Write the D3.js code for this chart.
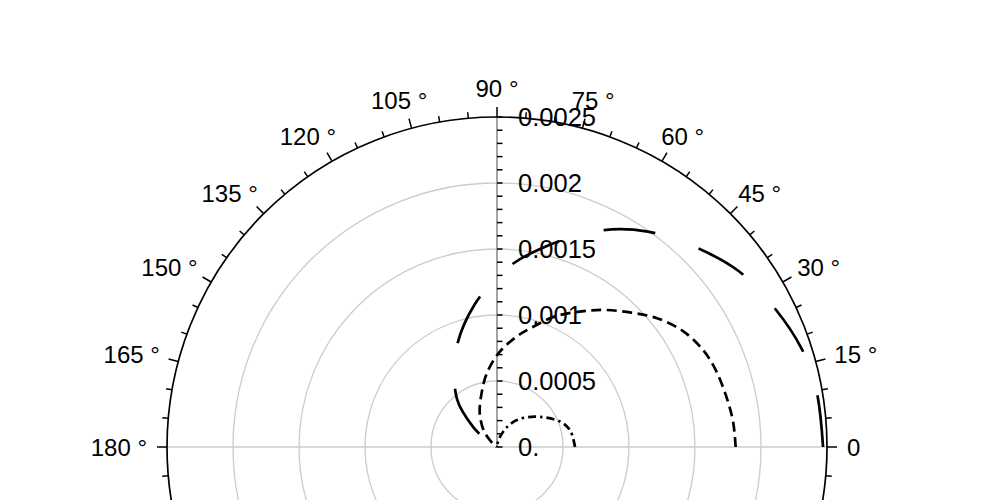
<!DOCTYPE html>
<html>
<head>
<meta charset="utf-8">
<script src="https://cdn.jsdelivr.net/npm/d3@7"></script>
<style>
  html, body { margin: 0; padding: 0; background: #fff; }
  svg { display: block; }
  text { font-family: "Liberation Sans", Arial, sans-serif; fill: #000; }
</style>
</head>
<body>
<svg id="chart" width="997" height="500"></svg>
<script>
// ---- data (angles in degrees, radii in data units) ----
const angleTickValues = [0, 15, 30, 45, 60, 75, 90, 105, 120, 135, 150, 165, 180];
const angleTickLabels = ["0", "15 °", "30 °", "45 °", "60 °", "75 °", "90 °", "105 °", "120 °", "135 °", "150 °", "165 °", "180 °"];
const radialTickValues = [0, 0.0005, 0.001, 0.0015, 0.002, 0.0025];
const radialTickLabels = ["0.", "0.0005", "0.001", "0.0015", "0.002", "0.0025"];

const longDashTheta = [0, 10, 18, 27, 36, 45, 55, 65, 78, 87, 99, 113, 130, 140, 146, 152, 160];
const longDashR = [0.00247, 0.002458, 0.002424, 0.002348, 0.002265, 0.002136, 0.001992, 0.001807,
                   0.00153, 0.001352, 0.001091, 0.000795, 0.00047, 0.000235, 0.000095, 0.00002, 0];

const dashTheta = [0, 6, 12, 19, 25, 32, 39, 45, 52, 58, 66, 74, 80, 89, 98, 106, 117, 129, 136, 143, 150];
const dashR = [0.001808, 0.001799, 0.00178, 0.001758, 0.001727, 0.001659, 0.001553, 0.001439, 0.001318,
               0.001212, 0.001083, 0.000939, 0.000848, 0.000712, 0.000561, 0.000424, 0.000288,
               0.000159, 0.000076, 0.000023, 0];

const dashDotTheta = [0, 13, 22, 35, 45, 54, 62, 67, 74, 80, 88];
const dashDotR = [0.000591, 0.000568, 0.000515, 0.000398, 0.000318, 0.00025, 0.000182, 0.000136,
                  0.000076, 0.00003, 0];

// ---- layout ----
const svg = d3.select("#chart");
const cx = 497, cy = 447, R = 330;
const rScale = d3.scaleLinear().domain([0, 0.0025]).range([0, R]);
// polar angle (deg, ccw from east) -> d3 radial angle (rad, cw from north)
const aScale = d3.scaleLinear().domain([0, 360]).range([Math.PI / 2, Math.PI / 2 - 2 * Math.PI]);

svg.append("rect").attr("width", 997).attr("height", 500).attr("fill", "#fff");
const g = svg.append("g").attr("transform", `translate(${cx},${cy})`);

// grid circles
g.selectAll("circle.grid").data(radialTickValues.filter(v => v > 0 && v < 0.0025))
  .enter().append("circle").attr("class", "grid")
  .attr("r", d => rScale(d)).attr("fill", "none")
  .attr("stroke", "#cccccc").attr("stroke-width", 1.3);

// horizontal 0-180 line
g.append("line").attr("x1", -R).attr("x2", R).attr("y1", 0).attr("y2", 0)
  .attr("stroke", "#cccccc").attr("stroke-width", 1.3);

// radial axis along 90°
g.append("line").attr("x1", 0).attr("x2", 0).attr("y1", 0).attr("y2", -R)
  .attr("stroke", "#9a9a9a").attr("stroke-width", 1.8);
const radMinor = d3.range(0, 26).map(i => i * 0.0001);
g.selectAll("line.rtick").data(radMinor).enter().append("line").attr("class", "rtick")
  .attr("x1", 0).attr("x2", 5.5)
  .attr("y1", d => -rScale(d)).attr("y2", d => -rScale(d))
  .attr("stroke", "#000").attr("stroke-width", 1.5);

// outer circle
g.append("circle").attr("r", R).attr("fill", "none").attr("stroke", "#000").attr("stroke-width", 1.7);

// angular ticks
const angTicks = d3.range(0, 360, 5);
g.selectAll("line.atick").data(angTicks).enter().append("line").attr("class", "atick")
  .each(function (d) {
    const t = d * Math.PI / 180;
    const len = d % 15 === 0 ? 10 : 6;
    d3.select(this)
      .attr("x1", R * Math.cos(t)).attr("y1", -R * Math.sin(t))
      .attr("x2", (R + len) * Math.cos(t)).attr("y2", -(R + len) * Math.sin(t));
  })
  .attr("stroke", "#000").attr("stroke-width", 1.5);

// radial labels
g.selectAll("text.rlab").data(radialTickValues).enter().append("text").attr("class", "rlab")
  .attr("x", 21).attr("y", d => -rScale(d) + 9)
  .attr("font-size", 25.5)
  .text((d, i) => radialTickLabels[i]);

// angle labels
const capH = 17;
g.selectAll("text.alab").data(angleTickValues).enter().append("text").attr("class", "alab")
  .attr("font-size", 24).attr("text-anchor", "middle")
  .text((d, i) => angleTickLabels[i])
  .each(function (d) {
    const t = d * Math.PI / 180;
    const w = this.getComputedTextLength();
    const px = (R + 20) * Math.cos(t), py = -(R + 20) * Math.sin(t);
    const mx = px + (w / 2) * Math.cos(t);
    const my = py - (capH / 2) * Math.sin(t);
    d3.select(this).attr("x", mx).attr("y", my + capH / 2);
  });

// curves
function polarLine() {
  return d3.lineRadial()
    .angle(d => aScale(d[0]))
    .radius(d => rScale(d[1]))
    .curve(d3.curveCatmullRom.alpha(0.5));
}
const series = [
  { theta: longDashTheta, r: longDashR, dash: "52,46" },
  { theta: dashTheta, r: dashR, dash: "10,5.5" },
  { theta: dashDotTheta, r: dashDotR, dash: "8,4,2.5,4" }
];
series.forEach(s => {
  const pts = s.theta.map((t, i) => [t, s.r[i]]);
  g.append("path").attr("d", polarLine()(pts))
    .attr("fill", "none").attr("stroke", "#000").attr("stroke-width", 2.7)
    .attr("stroke-dasharray", s.dash);
});
</script>
</body>
</html>
